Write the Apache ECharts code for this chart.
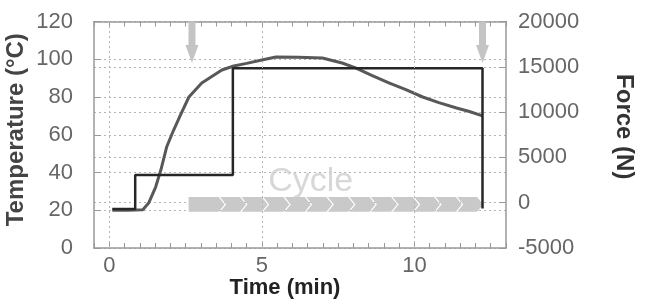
<!DOCTYPE html>
<html>
<head>
<meta charset="utf-8">
<script src="https://cdn.jsdelivr.net/npm/echarts@6/dist/echarts.min.js"></script>
<style>
html, body { margin: 0; padding: 0; background: #fff; }
#main { width: 658px; height: 299px; }
</style>
</head>
<body>
<div id="main"></div>
<script>
// temperature curve (min, °C)
var tempTime = [0.1, 0.6, 1.1, 1.29, 1.52, 1.69, 1.88, 2.11, 2.35, 2.61, 3.03, 3.69, 4.08, 4.5, 5.0, 5.46, 6.2, 6.98, 7.63, 8.07, 8.6, 9.18, 9.7, 10.27, 10.8, 11.38, 11.8, 12.23];
var tempValue = [20, 20, 20.3, 23.8, 32.3, 41.3, 53.5, 62.5, 71, 80, 87.4, 94.3, 96.4, 97.8, 99.6, 101.2, 101, 100.7, 98, 95.4, 91.5, 87.4, 84, 80, 77, 74.2, 72.3, 70];
// force (min, N)
var forceTime = [0.1, 0.85, 0.85, 4.05, 4.05, 12.23, 12.23];
var forceValue = [-700, -700, 3050, 3050, 14850, 14850, -650];

var timeLabels = [0, 5, 10];
var arrowTime = [2.71, 12.23];
var arrowNeck = 107.5;
var arrowTip = 98;
// cycle band: start of each block (min), last value = end
var cycleEdges = [2.6, 3.83, 4.53, 5.24, 5.95, 6.65, 7.36, 8.07, 8.77, 9.48, 10.19, 10.89, 11.6, 12.3];
var cycleBand = [19.2, 27];
var cycleLabelPos = [6.6, 35];

var font = 'Liberation Sans, Arial, sans-serif';
var gridDot = { color: '#b4b4b4', type: [2, 3], width: 1 };
var frame = { color: '#999', width: 1.5 };

function zip(a, b) {
    return a.map(function (v, i) { return [v, b[i]]; });
}

var chevronData = [];
for (var i = 0; i < cycleEdges.length - 1; i++) {
    chevronData.push([cycleEdges[i], cycleEdges[i + 1], i]);
}

var myChart = echarts.init(document.getElementById('main'));
var option = {
    animation: false,
    grid: { left: 94, right: 152, top: 21.5, bottom: 51, outerBoundsMode: 'none', containLabel: false },
    xAxis: [{
        type: 'value', position: 'bottom', min: -0.5, max: 13, interval: 0.5,
        axisLine: { onZero: false, lineStyle: frame },
        axisTick: { inside: true, length: 5, lineStyle: { color: '#999' } },
        splitLine: { show: false },
        axisLabel: {
            margin: 7, color: '#666', fontSize: 22, fontFamily: font,
            formatter: function (v) { return timeLabels.indexOf(v) >= 0 ? String(v) : ''; }
        },
        name: 'Time (min)', nameLocation: 'middle', nameGap: 29, nameMoveOverlap: false,
        nameTextStyle: { fontSize: 22, fontWeight: 'bold', color: '#222', fontFamily: font, padding: [0, 30, 0, 0] }
    }, {
        type: 'value', position: 'top', min: -0.5, max: 13, interval: 0.5,
        axisLine: { onZero: false, lineStyle: frame },
        axisTick: { inside: true, length: 5, lineStyle: { color: '#999' } },
        axisLabel: { show: false },
        splitLine: { show: false }
    }],
    yAxis: [{
        type: 'value', position: 'left', min: 0, max: 120, interval: 20,
        axisLine: { show: true, onZero: false, lineStyle: frame },
        axisTick: { show: true, inside: true, length: 7, lineStyle: { color: '#999' } },
        splitLine: { show: true, lineStyle: gridDot },
        axisLabel: { margin: 21, color: '#666', fontSize: 22, fontFamily: font, padding: [0, 0, 10, 0] },
        name: 'Temperature (°C)', nameLocation: 'middle', nameGap: 66, nameMoveOverlap: false,
        nameTextStyle: { fontSize: 24, fontWeight: 'bold', color: '#444', fontFamily: font, padding: [0, 0, 0, 10] }
    }, {
        type: 'value', position: 'right', min: -5000, max: 20000, interval: 5000,
        axisLine: { show: true, onZero: false, lineStyle: frame },
        axisTick: { show: true, inside: true, length: 7, lineStyle: { color: '#999' } },
        splitLine: { show: true, lineStyle: gridDot },
        axisLabel: {
            margin: 12, color: '#666', fontSize: 22, fontFamily: font, padding: [0, 0, 10, 0],
            formatter: function (v) { return String(v); }
        },
        name: 'Force (N)', nameLocation: 'middle', nameGap: 106, nameRotate: -90, nameMoveOverlap: false,
        nameTextStyle: { fontSize: 24, fontWeight: 'bold', color: '#333', fontFamily: font, padding: [0, 16, 0, 0] }
    }],
    series: [{
        type: 'custom',
        name: 'cycle',
        xAxisIndex: 0, yAxisIndex: 0,
        silent: true, z: 1,
        data: chevronData,
        renderItem: function (params, api) {
            var a = api.coord([api.value(0), cycleBand[1]]);
            var b = api.coord([api.value(1), cycleBand[0]]);
            var d = 6;
            var x0 = a[0], x1 = b[0] - 1.5, yt = a[1], yb = b[1], ym = (yt + yb) / 2;
            var pts;
            if (api.value(2) === 0) {
                pts = [[x0, yt], [x1 - d, yt], [x1, ym], [x1 - d, yb], [x0, yb]];
            } else {
                pts = [[x0 - d, yt], [x1 - d, yt], [x1, ym], [x1 - d, yb], [x0 - d, yb], [x0, ym]];
            }
            return { type: 'polygon', shape: { points: pts }, style: { fill: '#c9c9c9' } };
        }
    }, {
        type: 'custom',
        name: 'arrows',
        xAxisIndex: 0, yAxisIndex: 0,
        silent: true, z: 1,
        data: arrowTime.map(function (t) { return [t]; }),
        renderItem: function (params, api) {
            var t = api.value(0);
            var top = api.coord([t, 120]);
            var neck = api.coord([t, arrowNeck]);
            var tip = api.coord([t, arrowTip]);
            var x = top[0], w = 3.5, h = 6.5;
            return {
                type: 'polygon',
                shape: { points: [[x - w, top[1]], [x + w, top[1]], [x + w, neck[1]], [x + h, neck[1]], [x, tip[1]], [x - h, neck[1]], [x - w, neck[1]]] },
                style: { fill: '#c4c4c4' }
            };
        }
    }, {
        type: 'scatter',
        name: 'cycleLabel',
        xAxisIndex: 0, yAxisIndex: 0,
        silent: true, z: 1,
        symbolSize: 0,
        data: [cycleLabelPos],
        label: {
            show: true, position: 'inside', formatter: 'Cycle',
            fontSize: 34, color: '#cdcdcd', fontFamily: font
        }
    }, {
        type: 'line',
        name: 'Temperature',
        xAxisIndex: 0, yAxisIndex: 0,
        z: 3,
        showSymbol: false,
        lineStyle: { color: '#585858', width: 3 },
        data: zip(tempTime, tempValue),
        markLine: {
            silent: true, symbol: 'none', label: { show: false },
            lineStyle: gridDot,
            data: timeLabels.map(function (t) { return { xAxis: t }; })
        }
    }, {
        type: 'line',
        name: 'Force',
        xAxisIndex: 0, yAxisIndex: 1,
        z: 4,
        showSymbol: false,
        lineStyle: { color: '#262626', width: 2.5 },
        data: zip(forceTime, forceValue)
    }]
};
myChart.setOption(option);
window.addEventListener('resize', function () {
    myChart.resize();
});
</script>
</body>
</html>
